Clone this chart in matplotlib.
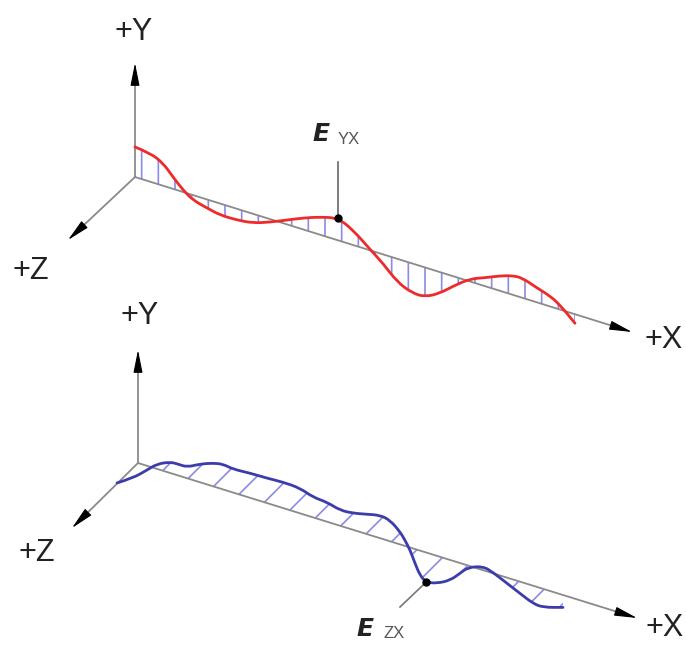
import matplotlib
matplotlib.use("Agg")
import matplotlib.pyplot as plt
from matplotlib.patches import FancyArrowPatch, PathPatch
from matplotlib.path import Path
from matplotlib.transforms import Affine2D
import numpy as np

# deviation curves
# position along +X (px from the origin) and deviation from the X line (px, + = up)
yx_pos = [0, 15, 28, 38, 48, 58, 72, 85, 102, 118, 135, 152, 168, 185, 203, 218,
          235, 248, 262, 277, 290, 305, 318, 335, 350, 365, 377, 387, 402, 415, 425, 440]
yx_dev = [30, 28.7, 22.7, 11.9, 2, -5, -8.5, -11.5, -11.2, -9.2, -3, 4.4, 11.4, 17.7, 22.3, 15,
          1, -9, -23, -29.5, -29.4, -21, -10, 2.7, 8.5, 15, 19, 20, 14.5, 10.5, 4.6, -9]

zx_pos = [-21, -5, 9, 19, 32, 40, 49, 62, 75, 85, 95, 112, 129, 145, 162, 175, 189,
          202, 215, 229, 242, 252, 262, 267, 272, 277, 282, 288, 299, 312, 322, 330,
          345, 355, 369, 382, 395, 405, 425]
zx_dev = [-26.5, -16.6, -4.2, 4.9, 11, 11.4, 11.2, 18.3, 23.3, 25.4, 23.5, 24.8, 25.1,
          26.1, 25.4, 20.4, 19.8, 15.8, 16.9, 20.2, 23.3, 21.4, 13, 6, -2, -13.9, -24.3,
          -29.4, -27, -20, -9.9, -1.4, 4.3, 1.4, -5.2, -11.2, -17.2, -18, -11.8]

yx_mark = 203   # position of the E_YX point
zx_mark = 288   # position of the E_ZX point

# layout (pixels)
W, H = 686, 646
SLOPE = 0.312
top = dict(o=(135, 177), y=(135, 63), z=(68, 240), x=(632, 332))
bot = dict(o=(138, 463), y=(138, 350), z=(72, 528), x=(637, 618))

AXIS_GRAY = "#8a8a8a"
HATCH_COL = "#8a8ae8"
plt.rcParams["hatch.color"] = HATCH_COL
plt.rcParams["hatch.linewidth"] = 1.2

fig = plt.figure(figsize=(W / 100, H / 100), dpi=100)
ax = fig.add_axes([0, 0, 1, 1])
ax.set_xlim(0, W)
ax.set_ylim(H, 0)
ax.axis("off")


def draw_axis(o, tip):
    o = np.array(o, float)
    tip = np.array(tip, float)
    d = (tip - o) / np.linalg.norm(tip - o)
    ax.plot([o[0], tip[0] - d[0] * 8], [o[1], tip[1] - d[1] * 8], color=AXIS_GRAY, lw=1.3, zorder=3)
    back = tip - d * 19
    ax.add_patch(FancyArrowPatch(back, tip, arrowstyle="-|>,head_length=1.4,head_width=0.28",
                                 mutation_scale=10, color="black", lw=0.8, shrinkA=0, shrinkB=0, zorder=4))


def panel_tr(o):
    # (position along X, deviation) -> picture coordinates
    m = np.array([[1, 0, o[0]], [SLOPE, -1, o[1]], [0, 0, 1]])
    return Affine2D(m) + ax.transData


def smooth_curve(u, v, tr, color):
    # quadratic bezier through the midpoints so the pen line is smooth
    pts = np.column_stack([u, v])
    verts = [pts[0]]
    codes = [Path.MOVETO]
    for a in range(1, len(pts) - 1):
        verts += [pts[a], (pts[a] + pts[a + 1]) / 2]
        codes += [Path.CURVE3, Path.CURVE3]
    verts.append(pts[-1])
    codes.append(Path.LINETO)
    ax.add_patch(PathPatch(Path(verts, codes), transform=tr, fill=False,
                           edgecolor=color, lw=2.0, capstyle="round", zorder=5))


def axis_labels(ylab, zlab, xlab):
    kw = dict(fontsize=22, color="#222222", family="Liberation Sans", ha="center", va="center")
    ax.text(*ylab, "+Y", **kw)
    ax.text(*zlab, "+Z", **kw)
    ax.text(*xlab, "+X", **kw)


def e_label(xy, sub, sub_xy):
    ax.text(*xy, "E", fontsize=18, fontstyle="italic", fontweight="bold",
            color="#222222", family="DejaVu Sans", ha="center", va="center")
    ax.text(*sub_xy, sub, fontsize=12, color="#555555", family="Liberation Sans",
            ha="center", va="center")


# top panel: E_YX
tr1 = panel_tr(top["o"])
u = np.array(yx_pos, float)
v = np.array(yx_dev, float)
ax.fill_between(u, 0, v, transform=tr1, facecolor="none", edgecolor=HATCH_COL,
                linewidth=0, hatch="|", zorder=1)
smooth_curve(u, v, tr1, "#ee2a2a")
for k in ("y", "z", "x"):
    draw_axis(top["o"], top[k])
i = yx_pos.index(yx_mark)
px = ax.transData.inverted().transform(tr1.transform((yx_pos[i], yx_dev[i])))
ax.plot([px[0], px[0]], [px[1], 162], color="#666666", lw=1.2, zorder=4)
ax.plot(px[0], px[1], "o", color="black", ms=5, zorder=6)
e_label((321, 134), "YX", (349, 139))
axis_labels((134, 32), (31, 271), (664, 340))

# bottom panel: E_ZX
tr2 = panel_tr(bot["o"])
u = np.array(zx_pos, float)
v = np.array(zx_dev, float)
m = u >= 0
ax.fill_between(u[m], 0, v[m], transform=tr2, facecolor="none", edgecolor=HATCH_COL,
                linewidth=0, hatch="/", zorder=1)
smooth_curve(u, v, tr2, "#3c3caa")
for k in ("y", "z", "x"):
    draw_axis(bot["o"], bot[k])
i = zx_pos.index(zx_mark)
px = ax.transData.inverted().transform(tr2.transform((zx_pos[i], zx_dev[i])))
ax.plot([px[0], 400], [px[1], 607], color="#777777", lw=1.2, zorder=4)
ax.plot(px[0], px[1], "o", color="black", ms=5, zorder=6)
e_label((365, 629), "ZX", (394, 634))
axis_labels((140, 316), (37, 553), (665, 628))

fig.savefig("out.png", dpi=100)
